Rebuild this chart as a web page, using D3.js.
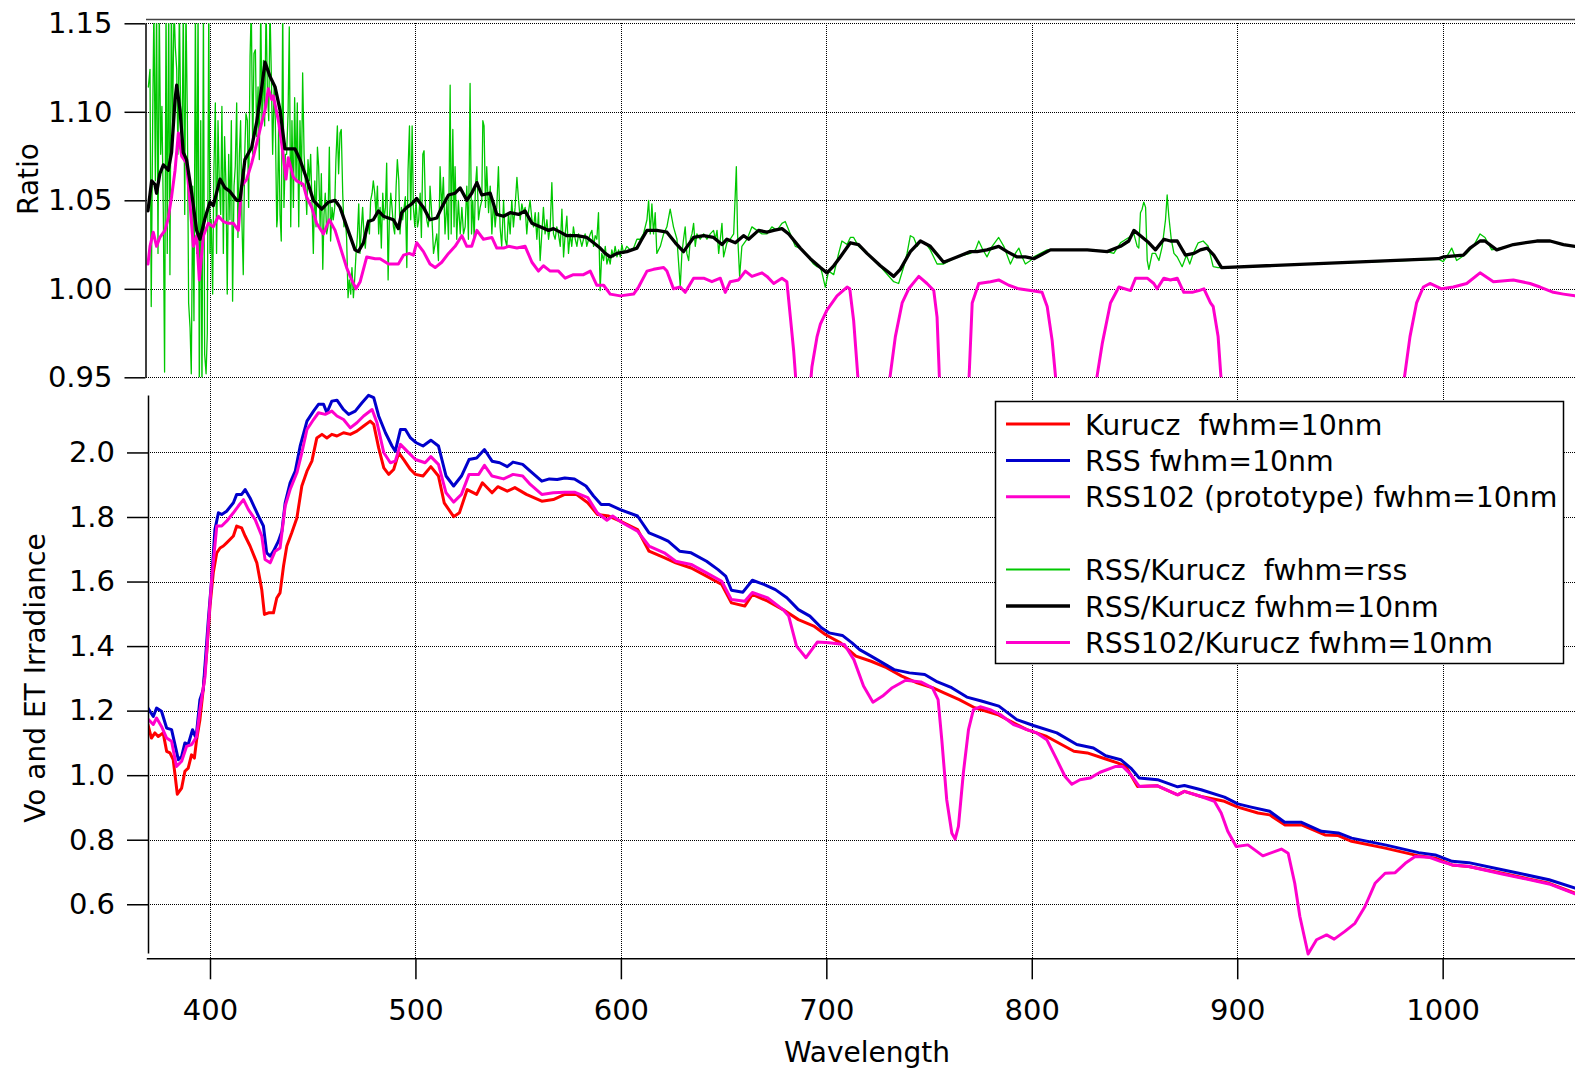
<!DOCTYPE html>
<html><head><meta charset="utf-8">
<script src="https://cdn.jsdelivr.net/npm/d3@7"></script>
<style>
body{margin:0;background:#fff}
svg{display:block}
text{font-family:"DejaVu Sans",sans-serif;fill:#000}
</style>
</head><body>
<svg id="chart" width="1575" height="1071"></svg>
<script>
// ---------------- data (wavelength nm, value) ----------------
const xTicks = [400, 500, 600, 700, 800, 900, 1000];
const ratioTicks = [0.95, 1.00, 1.05, 1.10, 1.15];
const irrTicks = [0.6, 0.8, 1.0, 1.2, 1.4, 1.6, 1.8, 2.0];

const legendLabels = ["Kurucz  fwhm=10nm", "RSS fwhm=10nm", "RSS102 (prototype) fwhm=10nm", "",
  "RSS/Kurucz  fwhm=rss", "RSS/Kurucz fwhm=10nm", "RSS102/Kurucz fwhm=10nm"];

const kurucz10 = [[369.8,1.157],[371.5,1.115],[373.2,1.131],[374.8,1.120],[377.2,1.131],[378.9,1.074],[380.5,1.069],[382.1,1.048],[384.1,0.941],[386.2,0.960],[387.8,1.012],[389.4,1.022],[391.0,1.063],[392.4,1.053],[393.5,1.110],[395.1,1.172],[396.7,1.265],[398.4,1.379],[400.0,1.524],[401.6,1.627],[403.3,1.689],[404.9,1.704],[406.5,1.710],[408.1,1.720],[411.4,1.741],[413.0,1.772],[415.4,1.766],[417.1,1.741],[419.5,1.710],[422.8,1.658],[425.2,1.575],[426.5,1.498],[428.5,1.503],[430.9,1.503],[432.5,1.549],[434.1,1.565],[435.8,1.648],[437.4,1.710],[439.8,1.751],[442.3,1.797],[444.7,1.896],[447.2,1.942],[449.6,1.973],[452.0,2.045],[454.5,2.056],[456.9,2.045],[459.3,2.056],[461.8,2.051],[465.0,2.061],[468.3,2.056],[471.5,2.066],[474.8,2.082],[478.0,2.097],[479.7,2.087],[482.1,2.014],[484.6,1.952],[487.0,1.932],[489.4,1.947],[491.9,1.999],[494.3,1.978],[497.6,1.947],[500.0,1.932],[503.7,1.927],[507.5,1.956],[511.2,1.927],[514.0,1.844],[518.6,1.801],[521.4,1.813],[525.2,1.885],[529.8,1.870],[532.6,1.906],[537.3,1.875],[540.1,1.894],[544.7,1.880],[548.4,1.891],[554.0,1.870],[561.5,1.849],[567.1,1.854],[572.7,1.870],[578.3,1.870],[583.9,1.844],[588.5,1.808],[594.1,1.803],[599.7,1.787],[608.1,1.761],[613.7,1.694],[621.1,1.674],[626.7,1.658],[634.2,1.642],[641.7,1.617],[649.1,1.591],[653.8,1.534],[660.3,1.524],[664.0,1.560],[671.5,1.539],[678.9,1.513],[686.4,1.482],[693.9,1.462],[699.5,1.436],[706.9,1.410],[714.4,1.369],[721.8,1.353],[729.3,1.333],[736.7,1.307],[744.2,1.286],[751.7,1.271],[757.3,1.255],[764.7,1.234],[772.2,1.209],[783.3,1.188],[797.6,1.141],[807.3,1.120],[820.5,1.074],[827.0,1.069],[836.0,1.050],[841.7,1.038],[845.8,1.027],[851.5,0.965],[861.2,0.967],[871.0,0.939],[874.3,0.950],[882.4,0.934],[893.8,0.919],[900.3,0.901],[910.1,0.883],[915.8,0.877],[923.1,0.846],[931.3,0.846],[942.7,0.815],[949.2,0.813],[955.7,0.795],[972.0,0.774],[988.3,0.750],[996.4,0.743],[1004.6,0.722],[1012.7,0.717],[1029.0,0.696],[1051.8,0.665],[1064.5,0.634]];

const rss10 = [[369.8,1.208],[372.4,1.182],[374.0,1.208],[376.4,1.198],[378.9,1.146],[381.3,1.141],[384.6,1.048],[386.2,1.058],[387.8,1.100],[389.4,1.095],[391.5,1.141],[393.2,1.115],[395.1,1.234],[396.7,1.265],[399.2,1.482],[400.8,1.606],[402.4,1.761],[404.1,1.813],[405.7,1.808],[408.1,1.818],[411.4,1.844],[413.0,1.870],[415.4,1.870],[417.1,1.885],[419.5,1.859],[423.6,1.803],[426.0,1.772],[427.6,1.689],[429.3,1.679],[430.9,1.694],[433.3,1.725],[435.0,1.756],[436.6,1.844],[439.0,1.906],[441.5,1.942],[443.9,2.020],[447.2,2.097],[450.4,2.128],[452.8,2.149],[455.3,2.149],[456.9,2.123],[459.3,2.159],[461.8,2.162],[465.0,2.133],[467.5,2.118],[470.7,2.128],[474.0,2.154],[477.2,2.177],[479.7,2.170],[482.1,2.113],[485.4,2.061],[488.6,2.020],[490.2,2.004],[492.7,2.071],[495.1,2.071],[497.6,2.045],[500.4,2.030],[503.7,2.020],[507.5,2.038],[511.2,2.020],[514.9,1.927],[518.6,1.896],[522.4,1.927],[526.1,1.978],[529.8,1.983],[533.6,2.009],[537.3,1.973],[541.0,1.968],[544.7,1.956],[547.5,1.970],[552.2,1.963],[555.9,1.942],[561.5,1.911],[565.2,1.918],[569.0,1.916],[572.7,1.921],[577.4,1.918],[583.0,1.896],[586.7,1.865],[590.4,1.839],[594.1,1.839],[599.7,1.823],[608.1,1.803],[613.7,1.751],[619.3,1.736],[623.0,1.725],[628.6,1.694],[634.2,1.689],[641.7,1.663],[647.3,1.637],[651.0,1.617],[653.8,1.573],[659.4,1.567],[664.0,1.604],[669.6,1.591],[675.2,1.575],[680.8,1.550],[686.4,1.513],[692.0,1.493],[697.6,1.457],[701.3,1.441],[707.8,1.433],[712.5,1.410],[716.2,1.389],[721.8,1.369],[727.4,1.348],[733.0,1.327],[740.4,1.317],[747.9,1.312],[753.5,1.291],[761.0,1.271],[768.4,1.242],[775.9,1.229],[784.0,1.214],[792.7,1.172],[800.8,1.154],[812.2,1.131],[821.9,1.095],[830.0,1.084],[836.0,1.060],[843.3,1.048],[848.2,1.022],[852.3,0.991],[861.2,0.986],[871.0,0.964],[874.3,0.968],[882.4,0.955],[893.8,0.932],[900.3,0.911],[906.8,0.901],[915.8,0.888],[923.1,0.854],[931.3,0.854],[941.0,0.826],[949.2,0.821],[955.7,0.805],[972.0,0.784],[988.3,0.760],[996.4,0.753],[1004.6,0.733],[1012.7,0.729],[1029.0,0.707],[1037.1,0.696],[1051.8,0.676],[1064.5,0.650]];

const rss102 = [[369.8,1.174],[372.4,1.157],[374.0,1.177],[376.4,1.151],[378.9,1.115],[381.3,1.105],[383.7,1.027],[386.2,1.043],[388.6,1.089],[391.1,1.095],[393.5,1.120],[395.1,1.203],[397.6,1.306],[399.2,1.461],[400.8,1.606],[403.3,1.772],[405.7,1.772],[408.1,1.787],[411.4,1.813],[413.8,1.834],[416.3,1.854],[418.7,1.823],[422.0,1.792],[425.2,1.741],[426.8,1.668],[429.3,1.658],[431.7,1.694],[434.1,1.704],[436.6,1.834],[439.0,1.885],[442.3,1.937],[444.7,1.999],[447.2,2.071],[450.4,2.102],[452.8,2.123],[456.1,2.118],[459.3,2.128],[461.8,2.113],[465.0,2.102],[468.3,2.076],[471.5,2.092],[474.8,2.113],[478.9,2.133],[481.3,2.092],[484.6,1.999],[487.8,1.968],[490.2,1.973],[492.7,2.025],[495.9,2.004],[500.0,1.978],[504.7,1.968],[507.5,1.987],[511.2,1.963],[514.9,1.875],[518.6,1.846],[522.4,1.870],[526.1,1.932],[530.8,1.932],[533.6,1.960],[537.3,1.927],[542.9,1.918],[547.5,1.932],[552.2,1.927],[555.9,1.901],[561.5,1.870],[567.1,1.875],[572.7,1.877],[577.4,1.877],[583.9,1.860],[588.5,1.813],[593.2,1.790],[596.0,1.803],[600.7,1.782],[608.1,1.756],[613.7,1.710],[621.1,1.689],[626.7,1.663],[634.2,1.653],[641.7,1.627],[649.1,1.601],[653.8,1.544],[660.3,1.539],[664.0,1.566],[671.5,1.549],[678.9,1.513],[681.7,1.493],[685.5,1.400],[690.1,1.364],[695.7,1.413],[701.3,1.410],[708.8,1.405],[713.4,1.358],[718.1,1.276],[722.7,1.226],[727.4,1.245],[732.1,1.271],[738.6,1.294],[746.0,1.289],[751.6,1.271],[754.4,1.234],[756.2,1.110],[758.6,0.924],[761.1,0.820],[762.7,0.802],[764.3,0.841],[766.7,1.007],[769.2,1.141],[771.6,1.203],[774.9,1.212],[779.7,1.203],[784.6,1.188],[791.1,1.157],[797.6,1.141],[802.4,1.131],[807.3,1.110],[812.2,1.048],[816.2,0.996],[819.5,0.972],[823.5,0.986],[828.4,0.991],[833.3,1.009],[840.9,1.027],[844.2,1.027],[848.2,1.002],[852.3,0.965],[861.2,0.967],[871.0,0.939],[874.3,0.950],[882.4,0.934],[888.9,0.919],[892.2,0.883],[895.4,0.826],[899.5,0.779],[905.2,0.784],[912.5,0.750],[921.5,0.771],[924.8,0.758],[928.0,0.665],[930.5,0.562],[934.5,0.446],[938.6,0.490],[943.5,0.505],[947.2,0.492],[952.4,0.516],[957.3,0.541],[962.2,0.593],[967.1,0.665],[972.0,0.696],[976.9,0.698],[981.8,0.727],[986.6,0.748],[993.2,0.746],[998.9,0.733],[1004.6,0.722],[1012.7,0.717],[1029.0,0.694],[1051.8,0.663],[1064.5,0.632]];

const ratioRssNative = [[370.0,1.114],[370.8,1.124],[371.4,0.990],[372.1,1.095],[372.7,1.16],[373.4,1.061],[374.0,1.16],[374.7,1.020],[375.3,1.16],[376.0,1.076],[376.6,1.103],[377.3,1.042],[377.9,0.953],[378.6,1.16],[379.2,1.020],[379.9,1.16],[380.5,1.008],[381.2,1.16],[381.8,1.095],[382.5,1.16],[383.1,1.137],[383.8,1.124],[384.4,1.076],[385.1,1.16],[385.7,1.101],[386.4,1.076],[387.0,1.16],[387.7,1.042],[388.3,1.16],[389.0,1.095],[389.6,0.992],[390.3,0.978],[390.9,0.952],[391.6,1.058],[392.2,0.982],[392.9,1.16],[393.5,1.020],[394.2,1.16],[394.8,0.94],[395.5,1.095],[396.1,0.94],[396.8,1.16],[397.4,0.963],[398.1,0.952],[398.7,0.975],[399.4,1.16],[400.0,1.020],
[400.6,1.039],[401.3,0.997],[401.9,1.067],[402.6,1.105],[403.2,1.020],[403.9,1.095],[404.5,1.061],[405.2,1.042],[405.8,1.103],[406.5,1.020],[407.1,1.086],[407.8,1.058],[408.4,0.997],[409.1,1.076],[409.7,1.039],[410.4,1.095],[411.0,0.993],[411.7,1.058],[412.3,1.069],[413.0,1.105],[413.6,1.029],[414.3,1.076],[414.9,1.095],[415.6,1.035],[416.2,1.008],[416.9,1.076],[417.5,1.099],[418.2,1.095],[418.8,1.046],[419.5,1.131],[420.1,1.16],[420.8,1.076],[421.4,1.133],[422.1,1.135],[422.7,1.086],[423.4,1.114],[424.0,1.073],[424.7,1.16],[425.3,1.095],[426.0,1.129],[426.6,1.092],[427.3,1.16],[427.9,1.114],[428.6,1.095],[429.2,1.16],[429.9,1.118],[430.5,1.076],[431.2,1.114],[431.8,1.095],[432.5,1.035],
[432.8,1.039],[433.4,1.092],[434.1,1.042],[434.7,1.027],[435.4,1.16],[436.0,1.046],[436.7,1.076],[437.3,1.076],[438.0,1.099],[438.6,1.148],[439.3,1.035],[439.9,1.095],[440.6,1.046],[441.2,1.108],[441.9,1.061],[442.5,1.105],[443.2,1.035],[443.8,1.095],[444.5,1.058],[445.1,1.122],[445.8,1.076],[446.4,1.061],[447.1,1.042],[447.7,1.073],[448.4,1.061],[449.0,1.076],[449.7,1.046],[450.3,1.020],[451.0,1.061],[451.6,1.035],[452.3,1.080],[452.9,1.069],[453.6,1.035],[454.2,1.065],[454.9,1.011],[455.5,1.042],[456.1,1.054],[456.8,1.031],[457.4,1.035],[458.1,1.080],[458.7,1.027],[459.4,1.046],[460.0,1.039],[460.7,1.046],[461.3,1.073],[462.0,1.092],[462.6,1.065],[463.3,1.088],[463.9,1.090],[464.6,1.054],[465.2,1.035],[465.9,1.039],[466.5,1.029],[467.2,0.995],[467.8,1.005],[468.5,0.997],[469.1,1.012],[469.8,0.995],[470.4,1.005],[471.1,1.020],[471.7,1.029],[472.4,1.048],[473.0,1.020],[473.7,1.035],[474.3,1.046],[475.0,1.029],[475.6,1.023],[476.3,1.035],[476.9,1.039],[477.6,1.031],[478.2,1.050],[478.9,1.054],[479.5,1.061],[480.2,1.054],[480.8,1.042],[481.5,1.058],[482.1,1.031],[482.8,1.046],[483.4,1.023],[484.1,1.054],[484.7,1.039],[485.4,1.046],[486.0,1.071],[486.7,1.005],[487.3,1.039],[488.0,1.054],[488.6,1.046],[489.3,1.035],[489.9,1.031],[490.6,1.058],[491.2,1.073],[491.9,1.061],[492.5,1.031],[493.2,1.046],[493.8,1.039],[494.5,1.046],[495.1,1.052],[495.8,1.012],[496.4,1.067],[497.1,1.092],[497.7,1.039],[498.4,1.092],[499.0,1.046],[499.7,1.035],[500.3,1.050],[501.0,1.035],[501.6,1.039],[502.3,1.054],[502.9,1.029],[503.6,1.076],[504.2,1.078],[504.9,1.046],[505.5,1.039],[506.2,1.035],[506.8,1.042],
[507.1,1.058],[508.0,1.041],[508.8,1.020],[510.4,1.031],[511.2,1.016],[512.0,1.069],[512.8,1.045],[513.6,1.063],[514.4,1.031],[515.3,1.050],[516.1,1.028],[516.9,1.115],[517.4,1.031],[518.2,1.090],[518.8,1.035],[519.3,1.069],[520.1,1.028],[520.9,1.050],[521.8,1.031],[522.6,1.046],[523.4,1.031],[524.2,1.035],[525.0,1.058],[525.8,1.028],[526.6,1.116],[527.3,1.031],[527.9,1.050],[528.6,1.028],[529.2,1.058],[529.9,1.069],[530.7,1.039],[531.5,1.046],[532.3,1.050],[532.8,1.095],[533.4,1.092],[534.1,1.046],[534.7,1.069],[535.6,1.043],[536.4,1.058],[537.2,1.031],[538.0,1.050],[538.8,1.035],[539.6,1.046],[540.4,1.069],[541.2,1.035],[542.0,1.024],[542.9,1.050],[543.7,1.028],[544.5,1.024],[545.3,1.043],[546.1,1.031],[546.9,1.050],[547.7,1.035],[548.5,1.046],[549.4,1.063],[550.2,1.050],[551.0,1.039],[551.8,1.048],[552.6,1.043],[553.4,1.046],[554.2,1.031],[555.0,1.043],[555.8,1.050],[556.7,1.039],[557.5,1.035],[558.3,1.043],[559.1,1.028],[559.9,1.043],[560.7,1.016],[561.5,1.031],[562.3,1.046],[563.1,1.031],[564.0,1.039],[564.8,1.028],[565.6,1.035],[566.4,1.060],[567.2,1.031],[568.0,1.028],[568.8,1.035],[569.6,1.031],[570.5,1.024],[571.3,1.045],[572.1,1.018],[572.9,1.031],[573.7,1.041],[574.5,1.020],[575.3,1.031],[576.1,1.024],[576.9,1.035],[577.8,1.028],[578.6,1.024],[579.4,1.031],[580.2,1.028],[581.0,1.024],[581.8,1.028],[582.6,1.031],[583.4,1.024],[584.3,1.028],[585.1,1.031],[585.9,1.033],[586.7,1.024],[587.5,1.030],[588.3,1.028],[589.1,1.043],[589.9,0.999],[590.7,1.020],[591.6,1.016],[592.4,1.024],[593.2,1.014],[594.0,1.018],[594.8,1.014],[595.6,1.022],[596.4,1.018],[597.2,1.024],[598.1,1.018],[598.9,1.022],[599.7,1.018],[600.5,1.025],[601.3,1.020],[602.9,1.024],[604.5,1.022],[606.2,1.023],[607.8,1.028],[609.4,1.028],[611.0,1.031],[612.7,1.039],[613.5,1.050],[614.3,1.031],[615.1,1.048],[615.9,1.031],[616.7,1.043],[617.5,1.020],[619.2,1.024],[620.8,1.031],[622.4,1.035],[624.0,1.045],[625.6,1.035],[627.3,1.028],[628.9,1.001],[629.7,1.020],[630.5,1.028],[631.3,1.035],[632.1,1.020],[633.0,1.016],[633.8,1.028],[634.6,1.031],[635.4,1.037],[636.2,1.024],[637.0,1.031],[638.6,1.028],[640.3,1.031],[641.9,1.028],[643.5,1.031],[645.1,1.033],[646.0,1.028],[646.8,1.033],[647.6,1.020],[648.4,1.028],[649.2,1.037],[650.0,1.018],[651.6,1.026],[653.2,1.028],[654.9,1.031],[656.2,1.069],[656.8,1.031],[657.8,1.007],[658.9,1.024],[661.4,1.028],[663.8,1.035],[666.2,1.033],[668.7,1.031],[671.1,1.031],[673.5,1.035],[676.0,1.033],[678.4,1.037],[680.0,1.038],[682.5,1.031],[684.9,1.024],[687.3,1.023],[690.6,1.019],[693.8,1.014],[695.5,1.0125],[697.1,1.012],
[697.9,1.009],[699.5,1.001],[701.1,1.010],[703.6,1.008],[706.0,1.020],[707.6,1.027],[710.1,1.025],[711.7,1.029],[713.3,1.029],[715.7,1.024],[719.8,1.020],[726.3,1.0125],[732.8,1.004],[735.2,1.003],[737.7,1.0125],[739.3,1.020],[740.9,1.030],[742.5,1.029],[744.2,1.024],[745.8,1.027],[748.2,1.026],[750.6,1.022],[753.9,1.014],[757.1,1.014],[763.6,1.018],[770.1,1.020],[772.6,1.022],[774.2,1.027],[775.8,1.023],[778.2,1.018],[780.7,1.024],[783.9,1.029],[786.4,1.024],[789.6,1.014],[792.0,1.020],[793.7,1.023],[795.3,1.018],[796.9,1.014],[799.4,1.016],[801.0,1.018],[804.2,1.020],[807.5,1.022],[817.2,1.022],[827.0,1.022],[836.7,1.021],[839.9,1.020],[843.2,1.026],[847.2,1.029],[849.7,1.031],[851.3,1.024],[852.1,1.023],[852.9,1.043],[853.7,1.045],[854.5,1.049],[855.4,1.046],[856.2,1.016],[857.0,1.011],[858.6,1.020],[860.2,1.020],[861.9,1.016],[863.5,1.024],[865.1,1.039],[865.9,1.053],[866.7,1.041],[867.9,1.028],[869.2,1.020],[870.8,1.018],[873.2,1.0125],[875.3,1.019],[876.9,1.014],[878.6,1.020],[881.0,1.026],[883.4,1.027],[885.9,1.024],[888.3,1.0125],[890.7,1.012],[892.4,1.012],
[997.9,1.0167],[1000.3,1.0154],[1001.9,1.018],[1004.4,1.023],[1006.8,1.016],[1009.3,1.018],[1011.7,1.020],[1014.9,1.024],[1018.2,1.031],[1020.6,1.029],[1023.9,1.022],[1027.9,1.023],[1034.4,1.025],[1045.8,1.027],[1052.3,1.027],[1058.8,1.025],[1064.4,1.024]];

const ratioRss10 = [[369.8,1.044],[371.6,1.061],[373.2,1.059],[374.0,1.054],[375.6,1.065],[377.3,1.070],[379.7,1.067],[381.3,1.077],[383.0,1.107],[383.8,1.115],[385.4,1.101],[387.0,1.077],[388.6,1.073],[391.1,1.054],[393.5,1.033],[395.1,1.028],[397.6,1.040],[400.0,1.049],[401.6,1.047],[404.9,1.062],[407.3,1.057],[409.7,1.055],[413.0,1.050],[414.6,1.050],[417.0,1.073],[420.3,1.080],[422.7,1.094],[425.2,1.114],[426.8,1.128],[429.2,1.120],[431.7,1.114],[434.1,1.101],[436.5,1.079],[439.0,1.079],[441.4,1.079],[443.8,1.073],[447.1,1.062],[450.3,1.050],[454.4,1.045],[457.6,1.049],[460.9,1.050],[463.3,1.046],[466.6,1.035],[470.6,1.022],[472.2,1.021],[474.7,1.026],[477.1,1.038],[479.5,1.039],[482.0,1.044],[484.4,1.041],[486.8,1.040],[489.3,1.039],[491.7,1.034],[493.3,1.043],[495.8,1.046],[498.2,1.048],[500.6,1.051],[503.9,1.046],[507.1,1.039],[510.4,1.040],[512.8,1.046],[516.1,1.053],[519.3,1.054],[521.8,1.057],[525.0,1.050],[527.4,1.054],[529.9,1.060],[532.3,1.053],[536.4,1.054],[539.6,1.042],[542.9,1.041],[546.1,1.043],[550.2,1.042],[553.4,1.044],[556.7,1.037],[560.7,1.035],[564.8,1.033],[567.2,1.034],[570.5,1.032],[573.7,1.030],[578.6,1.030],[583.4,1.029],[586.7,1.026],[589.9,1.023],[592.4,1.020],[594.8,1.018],[598.1,1.020],[602.9,1.021],[607.8,1.023],[610.2,1.028],[612.7,1.033],[617.5,1.033],[622.4,1.032],[626.5,1.026],[630.5,1.021],[635.4,1.029],[640.3,1.030],[645.1,1.029],[649.2,1.025],[651.6,1.028],[655.7,1.026],[659.7,1.030],[662.2,1.028],[667.0,1.033],[671.1,1.032],[674.4,1.033],[678.4,1.034],[681.7,1.031],[687.3,1.023],[692.2,1.017],[697.1,1.012],[700.3,1.009],[703.6,1.013],[706.8,1.018],[711.7,1.026],[715.7,1.025],[719.8,1.020],[726.3,1.013],[732.8,1.007],[736.0,1.011],[740.9,1.021],[745.8,1.027],[750.6,1.024],[757.1,1.015],[763.6,1.018],[770.1,1.021],[773.4,1.021],[778.2,1.022],[783.9,1.024],[788.0,1.021],[792.9,1.018],[796.9,1.018],[801.0,1.017],[809.1,1.022],[817.2,1.022],[827.0,1.022],[836.7,1.021],[843.2,1.024],[847.2,1.027],[849.7,1.033],[852.9,1.030],[857.0,1.026],[860.2,1.022],[864.3,1.028],[867.5,1.027],[870.8,1.027],[874.8,1.019],[878.9,1.020],[882.1,1.022],[885.4,1.023],[888.6,1.019],[892.4,1.012],[997.9,1.017],[1000.3,1.018],[1010.1,1.019],[1013.3,1.023],[1018.2,1.027],[1020.6,1.027],[1026.3,1.022],[1034.4,1.025],[1045.8,1.027],[1052.3,1.027],[1058.8,1.025],[1064.4,1.024]];

const ratioRss102 = [[369.8,1.014],[370.8,1.024],[372.4,1.032],[374.0,1.024],[375.6,1.029],[378.1,1.033],[379.7,1.040],[381.3,1.052],[383.0,1.067],[384.6,1.088],[386.2,1.075],[388.6,1.071],[390.3,1.048],[391.9,1.024],[393.5,1.030],[394.8,1.005],[396.8,1.030],[399.2,1.037],[401.6,1.035],[404.1,1.041],[406.5,1.038],[408.9,1.037],[411.4,1.037],[413.8,1.033],[415.4,1.058],[417.9,1.062],[420.3,1.071],[422.7,1.082],[425.2,1.094],[426.8,1.101],[428.4,1.113],[430.0,1.107],[430.8,1.109],[433.3,1.095],[434.9,1.082],[437.0,1.062],[438.1,1.074],[440.6,1.063],[442.2,1.061],[445.4,1.059],[447.0,1.052],[449.5,1.046],[451.9,1.037],[455.2,1.031],[458.1,1.039],[460.9,1.033],[463.3,1.024],[466.5,1.012],[469.0,1.005],[471.1,1.000],[473.1,1.004],[476.3,1.018],[480.4,1.017],[482.8,1.017],[486.9,1.014],[491.7,1.014],[494.2,1.019],[497.0,1.020],[499.0,1.019],[500.6,1.026],[503.9,1.021],[507.1,1.014],[509.6,1.012],[512.8,1.015],[516.1,1.020],[519.3,1.024],[522.6,1.030],[525.0,1.024],[527.4,1.024],[529.9,1.033],[533.1,1.028],[537.2,1.029],[539.6,1.023],[542.9,1.023],[545.3,1.024],[549.4,1.023],[553.4,1.024],[556.7,1.015],[559.9,1.010],[562.3,1.013],[565.6,1.010],[569.6,1.010],[572.9,1.006],[576.9,1.008],[581.8,1.008],[585.1,1.010],[588.3,1.002],[591.6,1.002],[594.8,0.997],[599.7,0.996],[606.2,0.997],[608.6,1.001],[612.7,1.010],[615.9,1.011],[620.8,1.012],[622.4,1.010],[625.6,1.000],[628.9,1.001],[631.3,0.998],[635.4,1.006],[640.3,1.006],[644.3,1.004],[648.4,1.006],[650.8,0.998],[653.2,1.004],[657.3,1.005],[660.6,1.010],[663.8,1.007],[668.7,1.009],[671.1,1.007],[674.4,1.003],[678.4,1.006],[680.8,1.004],[682.5,0.984],[684.1,0.965],[685.7,0.940],[689.0,0.910],[692.2,0.945],[693.0,0.956],[695.5,0.973],[697.1,0.980],[700.3,0.988],[705.2,0.996],[710.1,1.001],[711.4,1.000],[713.3,0.982],[715.7,0.945],[722.0,0.900],[730.4,0.945],[733.6,0.973],[736.9,0.992],[740.1,1.000],[745.0,1.007],[749.0,1.003],[752.3,0.999],[753.9,0.984],[755.2,0.945],[762.5,0.630],[769.3,0.945],[771.0,0.992],[774.2,1.003],[779.9,1.004],[783.9,1.005],[788.8,1.002],[793.7,1.000],[799.4,0.999],[805.0,0.998],[807.5,0.990],[809.9,0.971],[812.0,0.945],[821.0,0.890],[831.0,0.945],[834.3,0.969],[838.3,0.992],[842.4,1.001],[848.1,0.999],[850.5,1.006],[856.2,1.006],[859.4,1.003],[861.0,1.000],[864.3,1.006],[867.5,1.005],[870.8,1.006],[874.0,0.998],[878.1,0.998],[881.3,0.999],[883.8,1.000],[887.0,0.992],[888.3,0.990],[890.7,0.973],[892.4,0.945],[935.0,0.540],[980.8,0.945],[984.1,0.973],[987.3,0.992],[990.6,1.001],[993.8,1.003],[999.5,1.000],[1005.2,1.001],[1011.7,1.003],[1018.2,1.009],[1024.7,1.004],[1034.4,1.005],[1042.5,1.003],[1047.4,1.001],[1053.9,0.998],[1058.8,0.997],[1064.4,0.996]];

// ---------------- drawing ----------------
const C = {red:"#ff0000", blue:"#0000cc", magenta:"#ff00cc", green:"#00c800", black:"#000000"};
const svg = d3.select("#chart");
const x = d3.scaleLinear().domain([369, 1065]).range([146.3, 1576.2]);
const yTop = d3.scaleLinear().domain([0.95, 1.15]).range([377.3, 23.3]);
const yBot = d3.scaleLinear().domain([0.449, 2.178]).range([953, 395]);

const defs = svg.append("defs");
defs.append("clipPath").attr("id","clipTop").append("rect")
  .attr("x", x(369)).attr("y", yTop(1.15)).attr("width", 1575 - x(369)).attr("height", yTop(0.95) - yTop(1.15));
defs.append("clipPath").attr("id","clipBot").append("rect")
  .attr("x", 148).attr("y", yBot(2.178) - 4).attr("width", 1575 - 148).attr("height", yBot(0.449) - yBot(2.178) + 8);

// grid (dotted)
const grid = svg.append("g").attr("stroke","#000").attr("stroke-width",1).attr("stroke-dasharray","1,1")
  .attr("fill","none").attr("shape-rendering","crispEdges");
xTicks.forEach(t => {
  grid.append("line").attr("x1", Math.round(x(t))+0.5).attr("x2", Math.round(x(t))+0.5)
    .attr("y1", Math.round(yTop(1.15))).attr("y2", 958);
});
ratioTicks.forEach(t => {
  grid.append("line").attr("x1", 146).attr("x2", 1575)
    .attr("y1", Math.round(yTop(t))+0.5).attr("y2", Math.round(yTop(t))+0.5);
});
irrTicks.forEach(t => {
  grid.append("line").attr("x1", 148).attr("x2", 1575)
    .attr("y1", Math.round(yBot(t))+0.5).attr("y2", Math.round(yBot(t))+0.5);
});

// top frame line
svg.append("line").attr("x1", 146).attr("x2", 1575).attr("y1", 19.5).attr("y2", 19.5)
  .attr("stroke", "#444").attr("stroke-width", 1.5);

// lines
const lineTop = d3.line().x(d => x(d[0])).y(d => yTop(d[1]));
const lineBot = d3.line().x(d => x(d[0])).y(d => yBot(d[1]));

const gTop = svg.append("g").attr("clip-path","url(#clipTop)").attr("fill","none")
  .attr("stroke-linejoin","round").attr("stroke-linecap","round");
gTop.append("path").datum(ratioRssNative).attr("d", lineTop).attr("stroke", C.green).attr("stroke-width", 1.3);
gTop.append("path").datum(ratioRss102).attr("d", lineTop).attr("stroke", C.magenta).attr("stroke-width", 3);
gTop.append("path").datum(ratioRss10).attr("d", lineTop).attr("stroke", C.black).attr("stroke-width", 3.3);

const gBot = svg.append("g").attr("clip-path","url(#clipBot)").attr("fill","none")
  .attr("stroke-linejoin","round").attr("stroke-linecap","round");
gBot.append("path").datum(kurucz10).attr("d", lineBot).attr("stroke", C.red).attr("stroke-width", 3);
gBot.append("path").datum(rss10).attr("d", lineBot).attr("stroke", C.blue).attr("stroke-width", 3);
gBot.append("path").datum(rss102).attr("d", lineBot).attr("stroke", C.magenta).attr("stroke-width", 3);

// axes
function styleAxis(g){
  g.attr("font-family","DejaVu Sans").attr("font-size",29);
  g.selectAll("path, line").attr("stroke","#000").attr("stroke-width",1.5);
  g.selectAll("text").attr("fill","#000");
}
svg.append("g").attr("transform","translate(145.5,0)")
  .call(d3.axisLeft(yTop).tickValues(ratioTicks).tickFormat(d3.format(".2f")).tickSize(21).tickPadding(12).tickSizeOuter(0))
  .call(styleAxis);
svg.append("g").attr("transform","translate(148,0)")
  .call(d3.axisLeft(yBot).tickValues(irrTicks).tickFormat(d3.format(".1f")).tickSize(21).tickPadding(12).tickSizeOuter(0))
  .call(styleAxis);
svg.append("g").attr("transform","translate(0,958.3)")
  .call(d3.axisBottom(x).tickValues(xTicks).tickFormat(d3.format("d")).tickSize(21).tickPadding(20).tickSizeOuter(0))
  .call(styleAxis);

// axis titles
svg.append("text").attr("transform","translate(38,179) rotate(-90)").attr("text-anchor","middle")
  .attr("font-size",28).text("Ratio");
svg.append("text").attr("transform","translate(45,678) rotate(-90)").attr("text-anchor","middle")
  .attr("font-size",28).text("Vo and ET Irradiance");
svg.append("text").attr("x",867).attr("y",1062).attr("text-anchor","middle")
  .attr("font-size",28).text("Wavelength");

// legend
const legendStyle = [
  {color:C.red, w:3}, {color:C.blue, w:3}, {color:C.magenta, w:3}, null,
  {color:C.green, w:2}, {color:C.black, w:3.5}, {color:C.magenta, w:3}
];
const lg = svg.append("g");
lg.append("rect").attr("x",995.5).attr("y",401.5).attr("width",568).attr("height",262)
  .attr("fill","#fff").attr("stroke","#000").attr("stroke-width",1.5);
legendLabels.forEach((lab, i) => {
  const s = legendStyle[i];
  if (!s) return;
  const cy = 424 + i * 36.4;
  lg.append("line").attr("x1",1006).attr("x2",1070).attr("y1",cy).attr("y2",cy)
    .attr("stroke", s.color).attr("stroke-width", s.w);
  lg.append("text").attr("x",1085).attr("y",cy + 10.5).attr("font-size",28.4)
    .style("white-space","pre").text(lab);
});
</script>
</body></html>
